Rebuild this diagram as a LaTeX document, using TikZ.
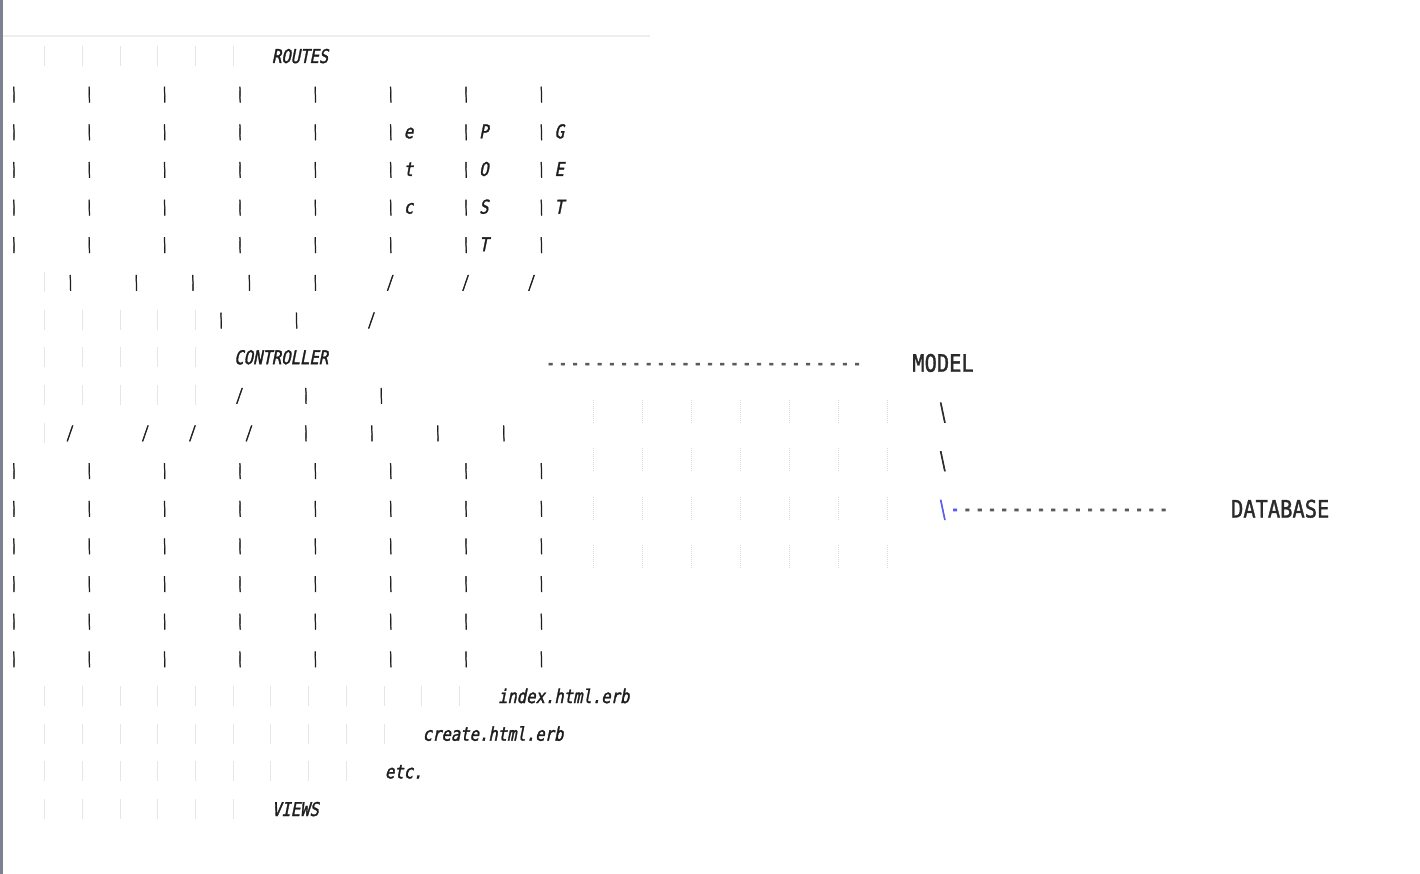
\documentclass[tikz,border=0pt]{standalone}
\usepackage{fontspec}
\newfontfamily\litf[FakeStretch=0.82,FakeSlant=0.2,FakeBold=1.6]{DejaVu Sans Mono}
\newfontfamily\lslf[FakeStretch=0.5,FakeSlant=0.11,FakeBold=2.2]{DejaVu Sans Mono}
\newfontfamily\lbsf[FakeStretch=0.45,FakeSlant=0.19,FakeBold=2.2]{DejaVu Sans Mono}
\newfontfamily\rtf[FakeStretch=0.85,FakeBold=1.4]{DejaVu Sans Mono}
\newfontfamily\rdf[FakeStretch=0.55,FakeBold=3]{DejaVu Sans Mono}
\newfontfamily\rslf[FakeStretch=0.45,FakeBold=2.6]{DejaVu Sans Mono}
\definecolor{txtL}{HTML}{1E1E1E}
\definecolor{txtR}{HTML}{2A2A2A}
\definecolor{dashC}{HTML}{5A5A5A}
\definecolor{blueC}{HTML}{5B5BF0}
\definecolor{guideL}{HTML}{E6E6E6}
\definecolor{guideR}{HTML}{DADADA}
\definecolor{borderC}{HTML}{7D8291}
\definecolor{topC}{HTML}{EEEEEE}
\begin{document}
\begin{tikzpicture}[x=1pt,y=-1pt,
  every node/.style={inner sep=0pt,outer sep=0pt},
  ltext/.style={anchor=base west,font={\litf\fontsize{19pt}{19pt}\selectfont},text=txtL},
  lslash/.style={anchor=base,font={\lslf\fontsize{19pt}{19pt}\selectfont},text=txtL},
  lback/.style={anchor=base,font={\lbsf\fontsize{19pt}{19pt}\selectfont},text=txtL},
  rtext/.style={anchor=base west,font={\rtf\fontsize{24pt}{24pt}\selectfont},text=txtR},
  rslash/.style={anchor=base,font={\rslf\fontsize{24pt}{24pt}\selectfont},text=txtR},
  dashch/.style={anchor=base,font={\rdf\fontsize{24pt}{24pt}\selectfont},text=dashC},
  lguide/.style={draw=guideL,line width=1pt},
  rguide/.style={draw=guideR,line width=1pt,dash pattern=on 1pt off 1pt}]
\useasboundingbox (0,0) rectangle (1420,874);
\fill[white] (0,0) rectangle (1420,874);
% window frame
\fill[borderC] (0,0) rectangle (2.5,874);
\fill[topC] (2.5,35) rectangle (650,37);
% ---------- left block: indent guides ----------
\foreach \r/\n in {0/6,6/1,7/5,8/5,9/5,10/1,17/12,18/10,19/9,20/6}
  \foreach \k in {1,...,\n}
    \draw[lguide] ({7.2+37.68*\k},{46+37.65*\r}) -- ({7.2+37.68*\k},{66+37.65*\r});
% ---------- left block: full rows of backslashes ----------
\foreach \r in {1,2,3,4,5,11,12,13,14,15,16}
  \foreach \c in {0,8,...,56}
    \node[lback] (bs-\r-\c) at ({12.9+9.42*\c},{63+37.65*\r}) {\textbackslash};
% letters of etc / POST / GET
\foreach \r/\a/\b/\g in {2/e/P/G,3/t/O/E,4/c/S/T}{
  \node[ltext] (la-\r) at ({8.2+9.42*42},{63+37.65*\r}) {\a};
  \node[ltext] (lb-\r) at ({8.2+9.42*50},{63+37.65*\r}) {\b};
  \node[ltext] (lg-\r) at ({8.2+9.42*58},{63+37.65*\r}) {\g};
}
\node[ltext] (lb-5) at ({8.2+9.42*50},{63+37.65*5}) {T};
% row 6
\foreach \c in {6,13,19,25,32}
  \node[lback] (bs-6-\c) at ({12.9+9.42*\c},{63+37.65*6}) {\textbackslash};
\foreach \c in {40,48,55}
  \node[lslash] (sl-6-\c) at ({12.9+9.42*\c},{63+37.65*6}) {/};
% row 7
\foreach \c in {22,30}
  \node[lback] (bs-7-\c) at ({12.9+9.42*\c},{63+37.65*7}) {\textbackslash};
\node[lslash] (sl-7-38) at ({12.9+9.42*38},{63+37.65*7}) {/};
% row 9
\node[lslash] (sl-9-24) at ({12.9+9.42*24},{63+37.65*9}) {/};
\foreach \c in {31,39}
  \node[lback] (bs-9-\c) at ({12.9+9.42*\c},{63+37.65*9}) {\textbackslash};
% row 10
\foreach \c in {6,14,19,25}
  \node[lslash] (sl-10-\c) at ({12.9+9.42*\c},{63+37.65*10}) {/};
\foreach \c in {31,38,45,52}
  \node[lback] (bs-10-\c) at ({12.9+9.42*\c},{63+37.65*10}) {\textbackslash};
% labels
\node[ltext] (routes) at ({8.2+9.42*28},{63}) {ROUTES};
\node[ltext] (controller) at ({8.2+9.42*24},{63+37.65*8}) {CONTROLLER};
\node[ltext] (index) at ({8.2+9.42*52},{63+37.65*17}) {index.html.erb};
\node[ltext] (create) at ({8.2+9.42*44},{63+37.65*18}) {create.html.erb};
\node[ltext] (etc) at ({8.2+9.42*40},{63+37.65*19}) {etc.};
\node[ltext] (views) at ({8.2+9.42*28},{63+37.65*20}) {VIEWS};
% ---------- right block ----------
\foreach \R in {1,2,3,4}
  \foreach \k in {1,...,7}
    \draw[rguide] ({544.5+49.05*\k},{351+48.6*\R}) -- ({544.5+49.05*\k},{375+48.6*\R});
\foreach \c in {0,...,25}
  \node[dashch] (md-\c) at ({550.6+12.26*\c},{370.7}) {-};
\node[rtext] (model) at ({544.5+12.26*30},{371.7}) {MODEL};
\foreach \R in {1,2}
  \node[rslash] (rb-\R) at ({550.6+12.26*32},{371.7+48.6*\R}) {\textbackslash};
\node[rslash,text=blueC] (rb-3) at ({550.6+12.26*32},{371.7+48.6*3}) {\textbackslash};
\node[dashch,text=blueC] (dd-33) at ({550.6+12.26*33},{370.7+48.6*3}) {-};
\foreach \c in {34,...,50}
  \node[dashch] (dd-\c) at ({550.6+12.26*\c},{370.7+48.6*3}) {-};
\node[rtext] (database) at ({544.5+12.26*56},{371.7+48.6*3}) {DATABASE};
\end{tikzpicture}
\end{document}
